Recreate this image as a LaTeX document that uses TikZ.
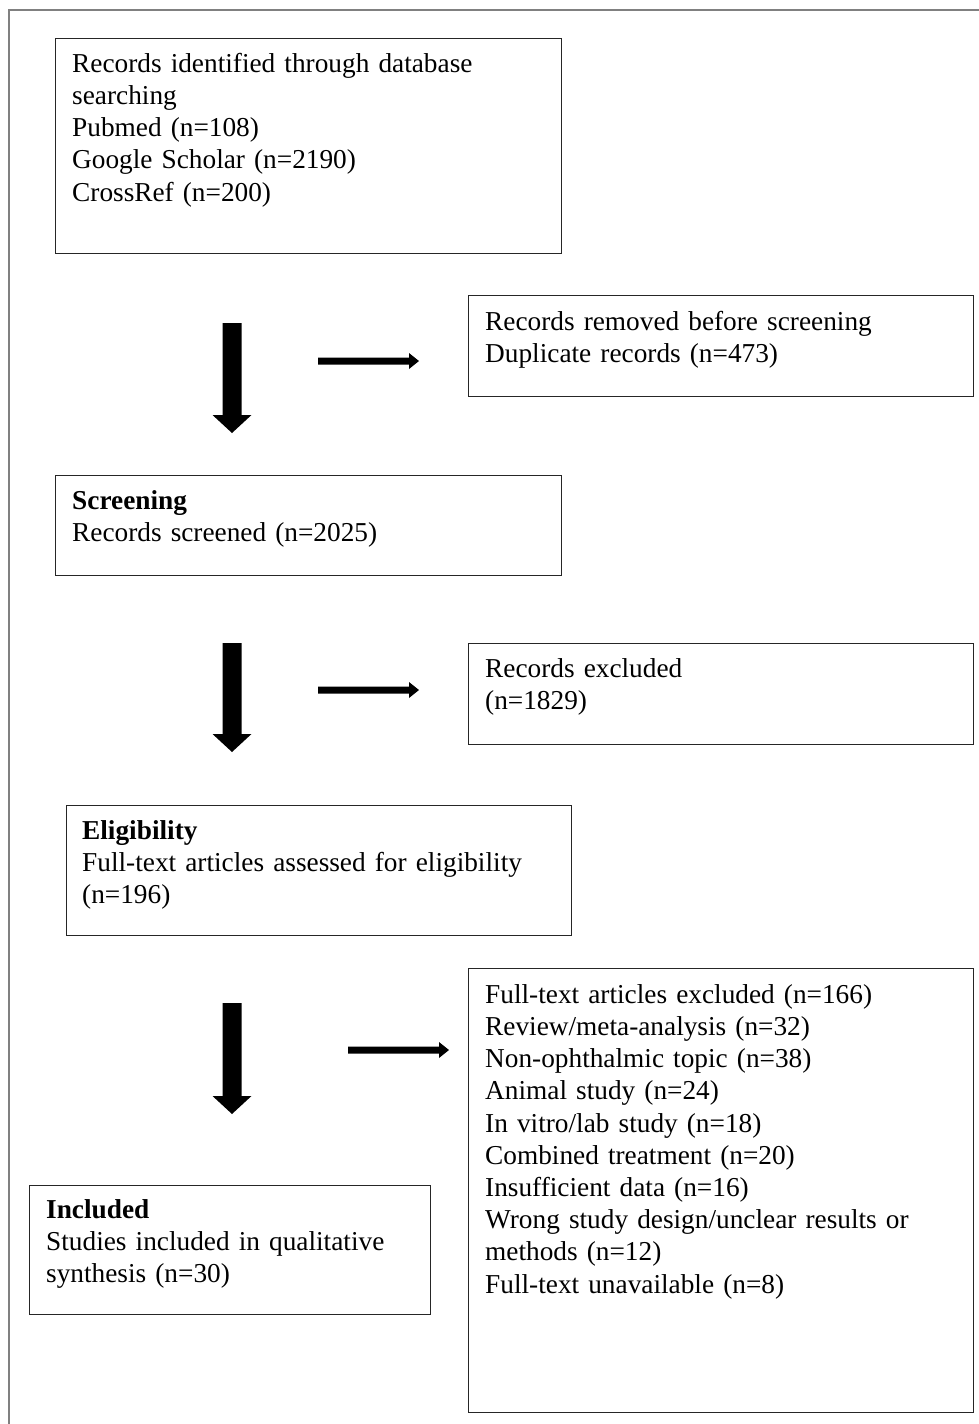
\documentclass[tikz,border=0pt]{standalone}
\usepackage{fontspec}
\setmainfont{Liberation Serif}
\usetikzlibrary{calc}
\newcommand\myDownArrow[2]{%
  \fill[black] ($(#1)+(-9.5,0)$) -- ($(#1)+(9.5,0)$) -- ($(#2)+(9.5,-18)$) -- ($(#2)+(19.5,-18)$) -- (#2) -- ($(#2)+(-19.5,-18)$) -- ($(#2)+(-9.5,-18)$) -- cycle;}
\newcommand\myRightArrow[2]{%
  \fill[black] ($(#1)+(0,-3.5)$) -- ($(#2)+(-10,-3.5)$) -- ($(#2)+(-10,-8)$) -- (#2) -- ($(#2)+(-10,8)$) -- ($(#2)+(-10,3.5)$) -- ($(#1)+(0,3.5)$) -- cycle;}
\begin{document}
\begin{tikzpicture}[x=1pt,y=-1pt,
  box/.style={draw=black!85, line width=1.4pt, inner sep=0pt, anchor=north west},
  txt/.style={inner sep=0pt, anchor=north west, align=left, text width=#1,
    font=\fontsize{27.3}{32.2}\selectfont},
  frame/.style={draw=black!50, line width=2pt}]
\useasboundingbox (0,0) rectangle (979,1424);
\fill[white] (0,0) rectangle (979,1424);
\draw[frame] (9,1424) -- (9,9.5) -- (979,9.5);

% boxes
\node[box, minimum width=506pt, minimum height=215pt] (b1) at (55,38) {};
\node[box, minimum width=505pt, minimum height=101pt] (b2) at (468,295) {};
\node[box, minimum width=506pt, minimum height=100pt] (b3) at (55,475) {};
\node[box, minimum width=505pt, minimum height=101pt] (b4) at (468,643) {};
\node[box, minimum width=505pt, minimum height=130pt] (b5) at (66,805) {};
\node[box, minimum width=505pt, minimum height=444pt] (b6) at (468,968) {};
\node[box, minimum width=401pt, minimum height=129pt] (b7) at (29,1185) {};

% texts
\node[txt=485pt] (t1) at ($(b1.north west)+(17,14)$) {\rule{0pt}{20pt}Records identified through database\\searching\\Pubmed (n=108)\\Google Scholar (n=2190)\\CrossRef (n=200)};
\node[txt=485pt] (t2) at ($(b2.north west)+(17,15)$) {\rule{0pt}{20pt}Records removed before screening\\Duplicate records (n=473)};
\node[txt=485pt] (t3) at ($(b3.north west)+(17,14)$) {\rule{0pt}{20pt}\textbf{Screening}\\Records screened (n=2025)};
\node[txt=485pt] (t4) at ($(b4.north west)+(17,14)$) {\rule{0pt}{20pt}Records excluded\\(n=1829)};
\node[txt=485pt] (t5) at ($(b5.north west)+(16,14)$) {\rule{0pt}{20pt}\textbf{Eligibility}\\Full-text articles assessed for eligibility\\(n=196)};
\node[txt=485pt] (t6) at ($(b6.north west)+(17,15)$) {\rule{0pt}{20pt}Full-text articles excluded (n=166)\\Review/meta-analysis (n=32)\\Non-ophthalmic topic (n=38)\\Animal study (n=24)\\In vitro/lab study (n=18)\\Combined treatment (n=20)\\Insufficient data (n=16)\\Wrong study design/unclear results or\\methods (n=12)\\Full-text unavailable (n=8)};
\node[txt=385pt] (t7) at ($(b7.north west)+(17,13)$) {\rule{0pt}{20pt}\textbf{Included}\\Studies included in qualitative\\synthesis (n=30)};

% arrows
\coordinate (d1s) at (232,323); \coordinate (d1e) at (232,433);
\coordinate (d2s) at (232,643); \coordinate (d2e) at (232,752);
\coordinate (d3s) at (232,1003); \coordinate (d3e) at (232,1114);
\coordinate (h1s) at (318,361); \coordinate (h1e) at (419,361);
\coordinate (h2s) at (318,690); \coordinate (h2e) at (419,690);
\coordinate (h3s) at (348,1050); \coordinate (h3e) at (449,1050);
\myDownArrow{d1s}{d1e}
\myDownArrow{d2s}{d2e}
\myDownArrow{d3s}{d3e}
\myRightArrow{h1s}{h1e}
\myRightArrow{h2s}{h2e}
\myRightArrow{h3s}{h3e}
\end{tikzpicture}
\end{document}
